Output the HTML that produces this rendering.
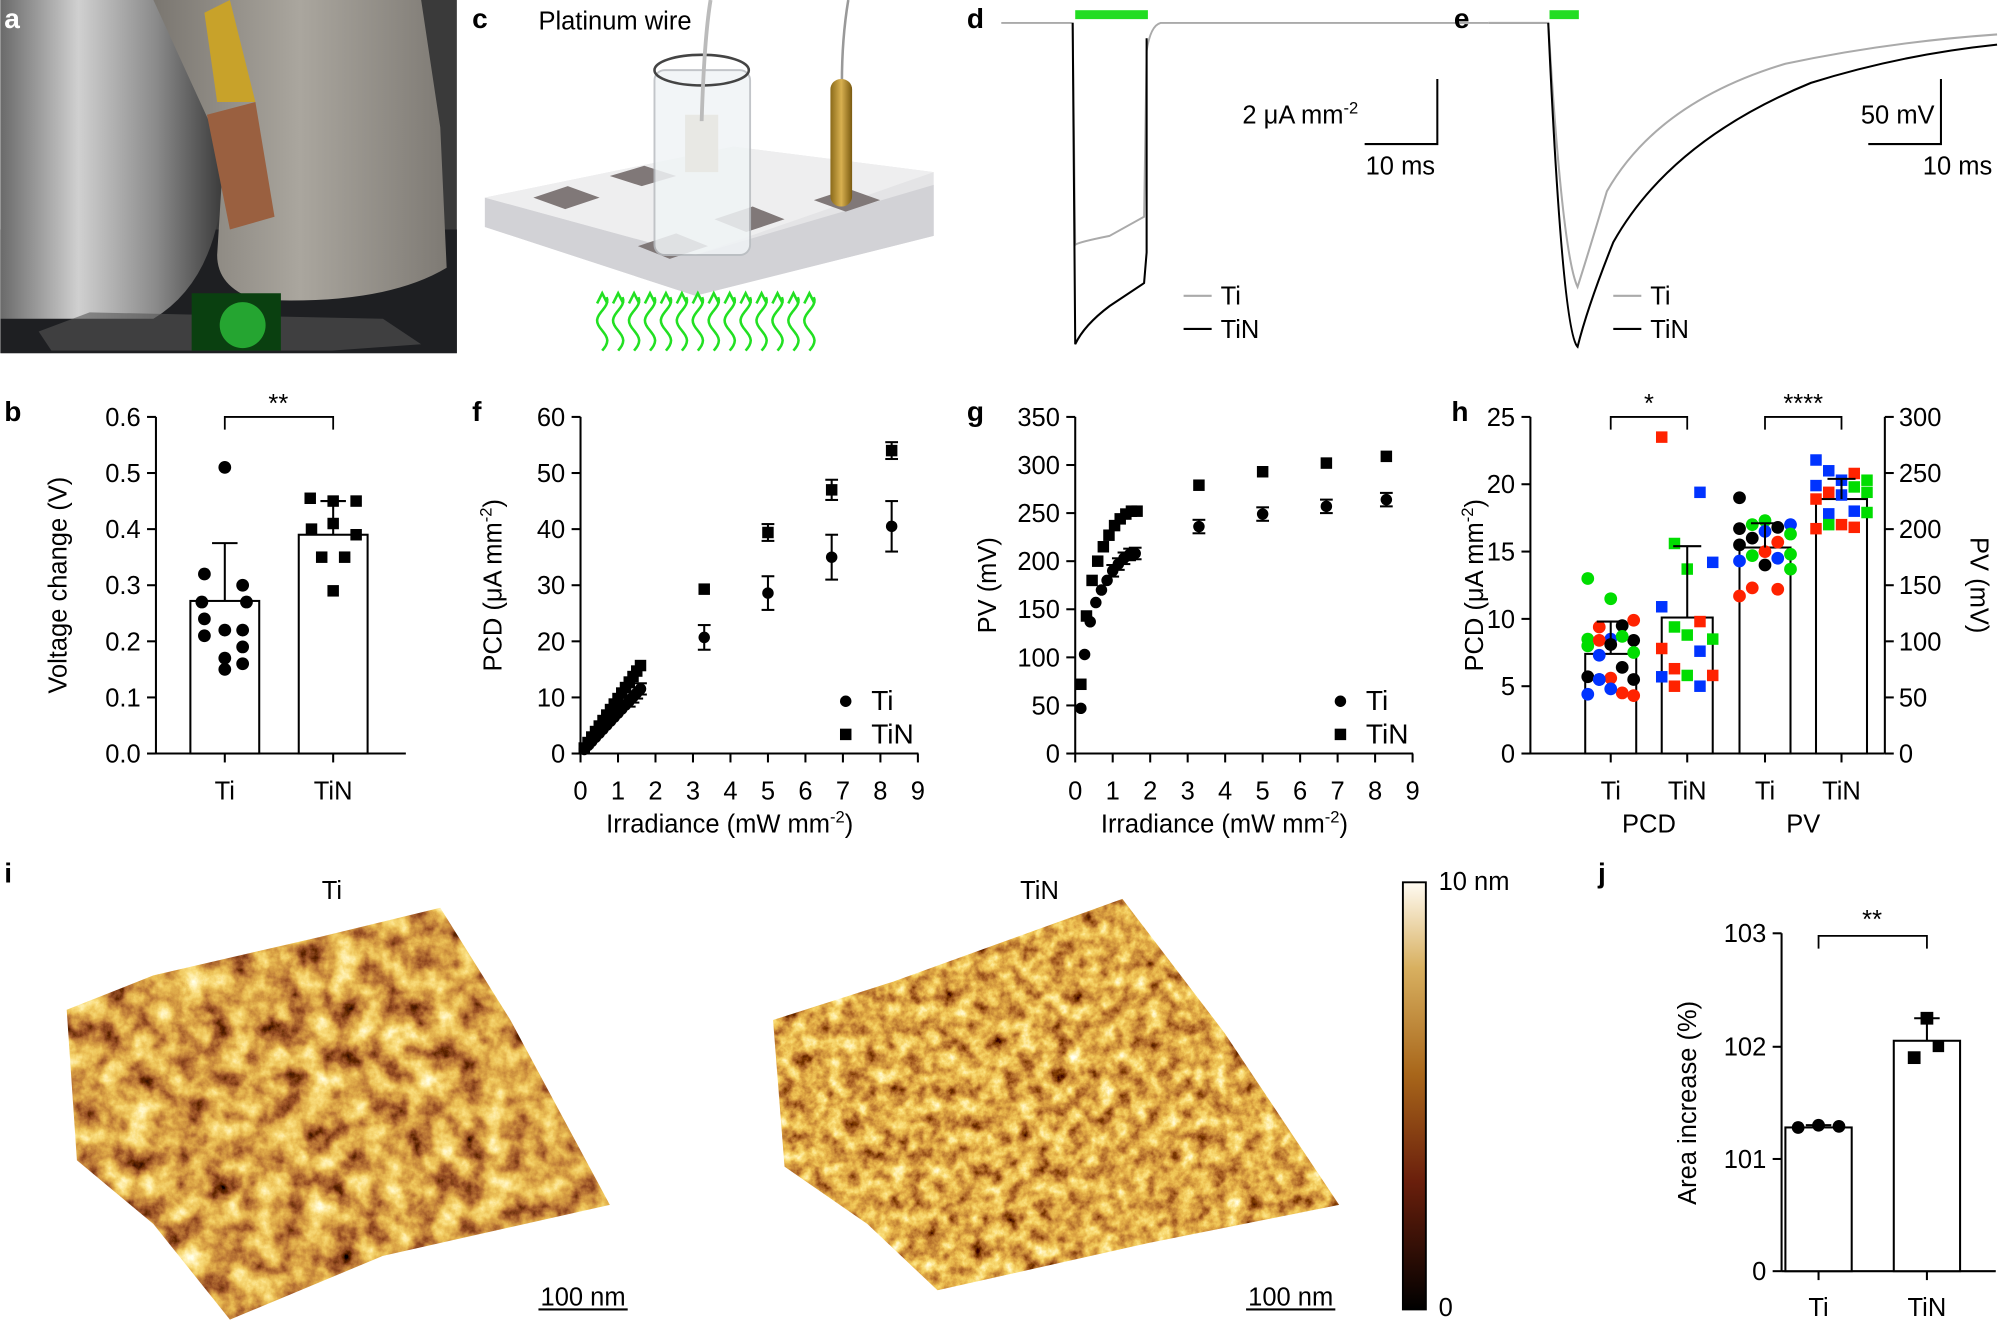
<!DOCTYPE html>
<html><head><meta charset="utf-8"><style>
html,body{margin:0;padding:0;background:#fff}
svg{display:block}
text{font-family:"Liberation Sans",Arial,sans-serif;fill:#000}
.t{font-size:20px}
.L{font-size:22px;font-weight:bold}
.ax{stroke:#000;stroke-width:1.6;fill:none}
</style></head><body>
<svg id="s" width="2000" height="1326" viewBox="0 0 1568 1040" xmlns="http://www.w3.org/2000/svg">
<defs>
<linearGradient id="cyl" x1="0" x2="1"><stop offset="0" stop-color="#6a6a6a"/><stop offset="0.35" stop-color="#d0d0d0"/><stop offset="0.7" stop-color="#8a8a8a"/><stop offset="1" stop-color="#3a3a3a"/></linearGradient>
<linearGradient id="head" x1="0" x2="1"><stop offset="0" stop-color="#7a7670"/><stop offset="0.5" stop-color="#aaa69e"/><stop offset="1" stop-color="#7e7a74"/></linearGradient>
<linearGradient id="gold" x1="0" x2="1"><stop offset="0" stop-color="#8a6a1a"/><stop offset="0.5" stop-color="#d8b050"/><stop offset="1" stop-color="#7a5a10"/></linearGradient>
<linearGradient id="cbar" x1="0" y1="1" x2="0" y2="0"><stop offset="0" stop-color="#000"/><stop offset="0.3" stop-color="#6a1f0c"/><stop offset="0.55" stop-color="#a8661a"/><stop offset="0.8" stop-color="#d8b060"/><stop offset="1" stop-color="#fffbf2"/></linearGradient>
<filter id="afm" x="0" y="0" width="1" height="1">
<feTurbulence type="fractalNoise" baseFrequency="0.05" numOctaves="6" seed="3" result="t"/>
<feColorMatrix in="t" type="matrix" values="1 0 0 0 0 1 0 0 0 0 1 0 0 0 0 0 0 0 0 1"/>
<feComponentTransfer><feFuncR type="table" tableValues="0 0 0.12 0.32 0.52 0.7 0.85 0.95 1 1 1"/><feFuncG type="table" tableValues="0 0 0.02 0.08 0.2 0.36 0.55 0.72 0.88 1 1"/><feFuncB type="table" tableValues="0 0 0 0.02 0.04 0.06 0.1 0.2 0.45 0.8 1"/><feFuncA type="linear" slope="0" intercept="1"/></feComponentTransfer>
<feComposite in2="SourceGraphic" operator="in"/>
</filter>
<filter id="afm2" x="0" y="0" width="1" height="1">
<feTurbulence type="fractalNoise" baseFrequency="0.08" numOctaves="6" seed="9" result="t"/>
<feColorMatrix in="t" type="matrix" values="1 0 0 0 0 1 0 0 0 0 1 0 0 0 0 0 0 0 0 1"/>
<feComponentTransfer><feFuncR type="table" tableValues="0 0.05 0.2 0.4 0.58 0.75 0.88 0.96 1 1 1"/><feFuncG type="table" tableValues="0 0 0.04 0.12 0.25 0.4 0.58 0.74 0.88 1 1"/><feFuncB type="table" tableValues="0 0 0 0.02 0.04 0.06 0.1 0.2 0.45 0.8 1"/><feFuncA type="linear" slope="0" intercept="1"/></feComponentTransfer>
<feComposite in2="SourceGraphic" operator="in"/>
</filter>
</defs>

<!-- panel a photo -->
<rect x="0" y="0" width="358" height="277" fill="#3a3a3a"/>
<rect x="0" y="180" width="358" height="97" fill="#1e1f22"/>
<path d="M0,0 L140,0 Q175,60 175,140 Q170,220 120,250 L0,250 Z" fill="url(#cyl)"/>
<path d="M120,0 L330,0 L345,100 L350,210 Q300,240 200,235 Q170,225 170,200 L175,120 Z" fill="url(#head)"/>
<path d="M160,10 L180,0 L200,80 L170,80 Z" fill="#c8a22a"/>
<path d="M162,90 L200,80 L215,170 L180,180 Z" fill="#9a6040"/>
<path d="M30,260 L70,245 L300,250 L330,270 L260,275 L40,275 Z" fill="#555" opacity="0.6"/>
<rect x="150" y="230" width="70" height="45" fill="#0a4010"/>
<ellipse cx="190" cy="255" rx="18" ry="18" fill="#30d040" opacity="0.7"/>
<text class="L" x="3" y="22" style="fill:#fff">a</text>

<!-- panel c -->
<text class="L" x="370" y="22">c</text>
<text class="t" x="422" y="23">Platinum wire</text>
<polygon points="380,155 575,115 732,135 732,185 545,232 380,178" fill="#e4e4e6"/>
<polygon points="380,155 545,200 732,145 732,185 545,232 380,178" fill="#d2d2d6"/>
<polygon points="380,155 575,115 732,135 545,200" fill="#eeeeef"/>
<polygon points="418,155 445,146 470,155 443,164" fill="#807878"/>
<polygon points="478,138 505,130 530,138 503,146" fill="#807878"/>
<polygon points="500,193 530,183 555,193 525,203" fill="#807878"/>
<polygon points="560,172 590,162 615,172 585,182" fill="#807878"/>
<polygon points="638,157 665,148 690,157 663,166" fill="#807878"/>
<rect x="513" y="55" width="75" height="145" rx="8" fill="#f0f4f6" stroke="#b8bcc0" stroke-width="1.5" opacity="0.85"/>
<ellipse cx="550" cy="55" rx="37" ry="12" fill="none" stroke="#444" stroke-width="2"/>
<rect x="537" y="90" width="26" height="45" fill="#e8e8e4"/>
<path d="M557,0 Q552,30 550,95" stroke="#bbb" stroke-width="3" fill="none"/>
<path d="M665,0 Q660,30 660,65" stroke="#999" stroke-width="2" fill="none"/>
<rect x="651" y="62" width="17" height="100" rx="8" fill="url(#gold)"/>
<g id="waves" stroke="#22e022" stroke-width="2" fill="none"></g>

<!-- panel d -->
<text class="L" x="758" y="22">d</text>
<rect x="843" y="8" width="57" height="7" fill="#22dd22"/>
<path d="M785,18 L841,18 L843,192 Q845,190 870,185 L897,170 L899,40 Q902,20 910,18 L1167,18" stroke="#aaa" stroke-width="1.5" fill="none"/>
<path d="M841,18 L843,270 Q850,255 870,240 L897,222 L899,198 L899,30" stroke="#000" stroke-width="1.6" fill="none"/>
<path d="M1127,62 L1127,113 L1070,113" class="ax"/>
<text class="t" x="1065" y="97" text-anchor="end">2 μA mm<tspan dy="-8" font-size="13">-2</tspan></text>
<text class="t" x="1098" y="137" text-anchor="middle">10 ms</text>
<line x1="928" y1="232" x2="950" y2="232" stroke="#aaa" stroke-width="1.6"/><text class="t" x="957" y="239">Ti</text>
<line x1="928" y1="258" x2="950" y2="258" stroke="#000" stroke-width="1.6"/><text class="t" x="957" y="265">TiN</text>

<!-- panel e -->
<text class="L" x="1140" y="22">e</text>
<rect x="1215" y="8" width="23" height="7" fill="#22dd22"/>
<path d="M1167,18 L1214,18 Q1225,200 1237,225 Q1245,200 1260,150 Q1300,80 1400,50 Q1480,33 1566,27" stroke="#aaa" stroke-width="1.6" fill="none"/>
<path d="M1214,18 Q1225,260 1237,272 Q1245,240 1265,190 Q1310,110 1420,65 Q1490,43 1566,35" stroke="#000" stroke-width="1.6" fill="none"/>
<path d="M1522,62 L1522,113 L1465,113" class="ax"/>
<text class="t" x="1517" y="97" text-anchor="end">50 mV</text>
<text class="t" x="1535" y="137" text-anchor="middle">10 ms</text>
<line x1="1265" y1="232" x2="1287" y2="232" stroke="#aaa" stroke-width="1.6"/><text class="t" x="1294" y="239">Ti</text>
<line x1="1265" y1="258" x2="1287" y2="258" stroke="#000" stroke-width="1.6"/><text class="t" x="1294" y="265">TiN</text>

<!-- letters -->
<text class="L" x="3" y="330">b</text>
<text class="L" x="370" y="330">f</text>
<text class="L" x="758" y="330">g</text>
<text class="L" x="1138" y="330">h</text>
<text class="L" x="3" y="692">i</text>
<text class="L" x="1253" y="692">j</text>

<g id="plots"></g>

<!-- panel i -->
<text class="t" x="260" y="705" text-anchor="middle">Ti</text>
<text class="t" x="815" y="705" text-anchor="middle">TiN</text>
<polygon points="52,792 120,765 250,735 345,712 400,800 478,945 300,985 180,1035 120,960 60,910" fill="#000" filter="url(#afm)"/>
<polygon points="606,800 700,770 880,705 960,810 1050,945 900,975 735,1012 680,960 615,915" fill="#000" filter="url(#afm2)"/>
<line x1="422" y1="1027" x2="492" y2="1027" stroke="#000" stroke-width="1.6"/>
<text class="t" x="457" y="1024" text-anchor="middle">100 nm</text>
<line x1="977" y1="1027" x2="1047" y2="1027" stroke="#000" stroke-width="1.6"/>
<text class="t" x="1012" y="1024" text-anchor="middle">100 nm</text>
<rect x="1100" y="692" width="18" height="335" fill="url(#cbar)" stroke="#000" stroke-width="1.5"/>
<text class="t" x="1128" y="698">10 nm</text>
<text class="t" x="1128" y="1032">0</text>
</svg>
<script>
const NS="http://www.w3.org/2000/svg";
const G=document.getElementById('plots');
function el(n,a,t,p){const e=document.createElementNS(NS,n);for(const k in a)e.setAttribute(k,a[k]);if(t!==undefined)e.textContent=t;(p||G).appendChild(e);return e;}
function line(x1,y1,x2,y2,w){el('line',{x1,y1,x2,y2,stroke:'#000','stroke-width':w||1.6});}
function txt(x,y,s,anc,extra){const a={x,y,'class':'t','text-anchor':anc||'middle'};Object.assign(a,extra||{});return el('text',a,s);}
function dot(x,y,c,r){el('circle',{cx:x,cy:y,r:r||5,fill:c||'#000'});}
function sq(x,y,c,s){s=s||9;el('rect',{x:x-s/2,y:y-s/2,width:s,height:s,fill:c||'#000'});}
const W=document.getElementById('waves');
for(let i=0;i<14;i++){let x=472+i*12.5;let d='M'+x+',275';for(let y=275;y>232;y-=2){d+=' L'+(x+4*Math.sin((275-y)/5)).toFixed(1)+','+y;}el('path',{d},undefined,W);el('path',{d:`M${x-4},238 L${x},230 L${x+4},238`},undefined,W);}
// b
(function(){const X=122,Y0=591,h=264;const ys=v=>Y0-v/0.6*h;
line(X,327,X,Y0);line(X,Y0,318,Y0);
for(let i=0;i<=6;i++){const y=ys(i/10);line(X-7,y,X,y);txt(X-12,y+7,(i/10).toFixed(1),'end');}
[176,261].forEach(x=>line(x,Y0,x,Y0+7));
txt(176,627,'Ti');txt(261,627,'TiN');
el('rect',{x:149,y:ys(0.272),width:54,height:Y0-ys(0.272),fill:'#fff',stroke:'#000','stroke-width':1.6});
el('rect',{x:234,y:ys(0.39),width:54,height:Y0-ys(0.39),fill:'#fff',stroke:'#000','stroke-width':1.6});
line(176,ys(0.272),176,ys(0.375));line(166,ys(0.375),186,ys(0.375));
line(261,ys(0.39),261,ys(0.45));line(251,ys(0.45),271,ys(0.45));
[[176,.51],[160,.32],[190,.30],[158,.27],[193,.27],[176,.22],[160,.21],[190,.19],[176,.17],[190,.16],[176,.15],[160,.24],[190,.22]].forEach(p=>dot(p[0],ys(p[1])));
[[243,.455],[261,.45],[279,.45],[244,.4],[261,.41],[279,.39],[252,.35],[270,.35],[261,.29]].forEach(p=>sq(p[0],ys(p[1])));
el('path',{d:'M176,337 L176,327 L261,327 L261,337',fill:'none',stroke:'#000','stroke-width':1.4});txt(218,323,'**');
el('text',{x:52,y:459,'class':'t','text-anchor':'middle',transform:'rotate(-90 52 459)'},'Voltage change (V)');
})();
function scat(X,ymax,step,ti,tin,lab,yl){const Y0=591,h=264;const ys=v=>Y0-v/ymax*h,xs=v=>X+v*29.4;
line(X,327,X,Y0);line(X,Y0,X+265,Y0);
for(let v=0;v<=ymax;v+=step){const y=ys(v);line(X-7,y,X,y);txt(X-12,y+7,String(v),'end');}
for(let i=0;i<=9;i++){line(xs(i),Y0,xs(i),Y0+7);txt(xs(i),627,String(i));}
const xl=el('text',{x:X+117,y:653,'class':'t','text-anchor':'middle'});xl.innerHTML='Irradiance (mW mm<tspan dy="-8" font-size="13">-2</tspan><tspan dy="8">)</tspan>';
const y2=el('text',{x:X-62,y:459,'class':'t','text-anchor':'middle',transform:`rotate(-90 ${X-62} 459)`});y2.innerHTML=yl;
const eb=p=>{if(p[2]){line(xs(p[0]),ys(p[1]-p[2]),xs(p[0]),ys(p[1]+p[2]));line(xs(p[0])-5,ys(p[1]-p[2]),xs(p[0])+5,ys(p[1]-p[2]));line(xs(p[0])-5,ys(p[1]+p[2]),xs(p[0])+5,ys(p[1]+p[2]));}};
ti.forEach(p=>{eb(p);dot(xs(p[0]),ys(p[1]),'#000',4.5);});
tin.forEach(p=>{eb(p);sq(xs(p[0]),ys(p[1]),'#000',9);});
dot(X+208,550,'#000',4.5);txt(X+228,557,'Ti','start',{style:'font-size:22px'});sq(X+208,576,'#000',9);txt(X+228,583,'TiN','start',{style:'font-size:22px'});
}
const fti=[],ftin=[];for(let i=1;i<=16;i++){const x=i*0.1;fti.push([x,x*7.2,i>12?1:0]);ftin.push([x,x*9.8,0]);}
fti.push([3.3,20.7,2.2],[5,28.6,3],[6.7,35,4],[8.3,40.5,4.5]);ftin.push([3.3,29.3,0],[5,39.4,1.5],[6.7,47,1.8],[8.3,54,1.5]);
scat(455,60,10,fti,ftin,'f','PCD (μA mm<tspan dy="-8" font-size="13">-2</tspan><tspan dy="8">)</tspan>');
const gti=[[0.15,47],[0.25,103],[0.4,137],[0.55,157],[0.7,170],[0.85,180],[1.0,190,6],[1.15,197,6],[1.3,203,6],[1.45,207,6],[1.6,208,6],[3.3,236,7],[5,249,7],[6.7,257,7],[8.3,264,7]];
const gtin=[[0.15,72],[0.3,143],[0.45,180],[0.6,200],[0.75,215],[0.9,227],[1.05,237],[1.2,244],[1.35,249],[1.5,252],[1.65,252],[3.3,279],[5,293],[6.7,302],[8.3,309]];
scat(843,350,50,gti,gtin,'g','PV (mV)');
// h
(function(){const X=1200,XR=1478,Y0=591,h=264;const ys=v=>Y0-v/25*h;
line(X,327,X,Y0);line(X-7,Y0,XR,Y0);line(XR,327,XR,Y0);
for(let v=0;v<=25;v+=5){const y=ys(v);line(X-7,y,X,y);txt(X-12,y+7,String(v),'end');}
for(let v=0;v<=300;v+=50){const y=Y0-v/300*h;line(XR,y,XR+7,y);txt(XR+11,y+7,String(v),'start');}
const xs=[1263,1323,1384,1444],vals=[7.4,10.1,15.3,18.9],sd=[9.8,15.4,17.1,20.4];
xs.forEach((x,i)=>{el('rect',{x:x-20,y:ys(vals[i]),width:40,height:Y0-ys(vals[i]),fill:'#fff',stroke:'#000','stroke-width':1.6});line(x,Y0,x,Y0+7);});
txt(1263,627,'Ti');txt(1323,627,'TiN');txt(1384,627,'Ti');txt(1444,627,'TiN');txt(1293,653,'PCD');txt(1414,653,'PV');
const C=['#ff2200','#00dd00','#0033ff','#000'];
const dd=[[13,1],[11.5,1],[9.9,0],[9.4,0],[9.5,3],[8.5,1],[8.5,2],[8.4,3],[8.4,0],[8.7,1],[8,1],[8.1,3],[7.5,1],[7.3,2],[6.4,3],[5.7,3],[5.6,0],[5.5,3],[5.5,2],[4.5,0],[4.4,2],[4.8,2],[4.3,0],[5.5,2]];
dd.forEach((p,i)=>dot(1263+((i*7)%5-2)*9,ys(p[0]),C[p[1]],5));
const td=[[23.5,0],[19.4,2],[15.6,1],[14.2,2],[13.7,1],[10.9,2],[9.8,0],[9.4,1],[8.5,1],[8.8,1],[7.8,0],[7.6,2],[6.3,0],[5.8,0],[5.8,1],[5.7,2],[5,2],[5,0]];
td.forEach((p,i)=>sq(1323+((i*3)%5-2)*10,ys(p[0]),C[p[1]],9));
const pd=[[19,3],[17.3,1],[17,2],[17,1],[16.8,3],[16.7,3],[16.5,2],[16.3,1],[16,3],[15.7,0],[15.5,3],[15,0],[14.8,1],[14.7,1],[14.5,2],[14.3,2],[14,3],[13.7,1],[12.3,0],[12.2,0],[11.7,0]];
pd.forEach((p,i)=>dot(1384+((i*7)%5-2)*10,ys(p[0]),C[p[1]],5));
const vd=[[21.8,2],[20.8,0],[21,2],[20.3,1],[20.3,2],[19.9,2],[19.8,1],[19.4,0],[19.4,1],[19.2,2],[18.9,0],[18,2],[17.8,2],[17.9,1],[17,0],[16.7,0],[16.8,0],[17,1]];
vd.forEach((p,i)=>sq(1444+((i*3)%5-2)*10,ys(p[0]),C[p[1]],9));
xs.forEach((x,i)=>{line(x,ys(vals[i]),x,ys(sd[i]));line(x-11,ys(sd[i]),x+11,ys(sd[i]));});
el('path',{d:'M1263,337 L1263,327 L1323,327 L1323,337',fill:'none',stroke:'#000','stroke-width':1.4});txt(1293,323,'*');
el('path',{d:'M1384,337 L1384,327 L1444,327 L1444,337',fill:'none',stroke:'#000','stroke-width':1.4});txt(1414,323,'****');
const a=el('text',{x:1163,y:459,'class':'t','text-anchor':'middle',transform:'rotate(-90 1163 459)'});a.innerHTML='PCD (μA mm<tspan dy="-8" font-size="13">-2</tspan><tspan dy="8">)</tspan>';
el('text',{x:1545,y:459,'class':'t','text-anchor':'middle',transform:'rotate(90 1545 459)'},'PV (mV)');
})();
// j
(function(){const X=1397,Y0=997;const ys=v=>909-(v-101)*88.3;
line(X,732,X,Y0);line(X,Y0,1565,Y0);
[[103,732],[102,821],[101,909],['0',997]].forEach(p=>{line(X-7,p[1],X,p[1]);txt(X-12,p[1]+7,String(p[0]),'end');});
el('rect',{x:1400,y:ys(101.28),width:52,height:Y0-ys(101.28),fill:'#fff',stroke:'#000','stroke-width':1.6});
el('rect',{x:1485,y:ys(102.05),width:52,height:Y0-ys(102.05),fill:'#fff',stroke:'#000','stroke-width':1.6});
[1426,1511].forEach(x=>line(x,Y0,x,Y0+7));
txt(1426,1032,'Ti');txt(1511,1032,'TiN');
line(1426,ys(101.28),1426,ys(101.3));line(1416,ys(101.3),1436,ys(101.3));
line(1511,ys(102.05),1511,ys(102.25));line(1501,ys(102.25),1521,ys(102.25));
dot(1410,ys(101.28));dot(1426,ys(101.3));dot(1442,ys(101.29));
sq(1511,ys(102.25),'#000',10);sq(1520,ys(102));sq(1501,ys(101.9),'#000',10);
el('path',{d:'M1426,744 L1426,734 L1511,734 L1511,744',fill:'none',stroke:'#000','stroke-width':1.4});txt(1468,728,'**');
el('text',{x:1330,y:865,'class':'t','text-anchor':'middle',transform:'rotate(-90 1330 865)'},'Area increase (%)');
})();
</script>
</body></html>
